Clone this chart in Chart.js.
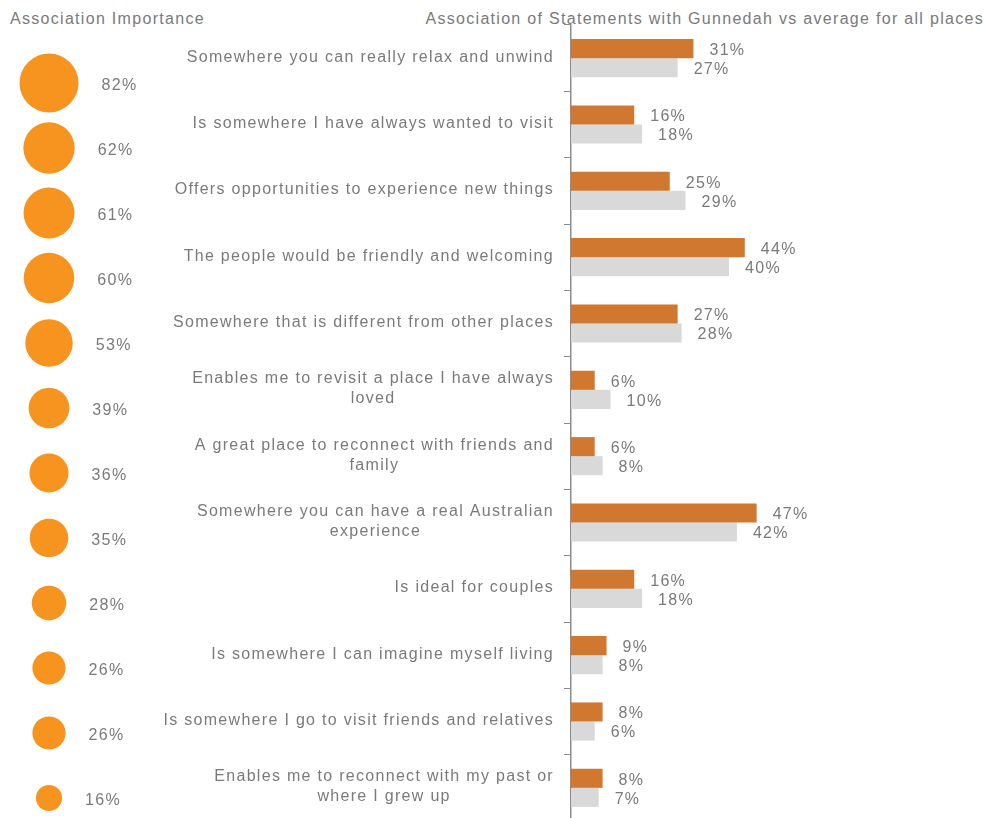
<!DOCTYPE html>
<html>
<head>
<meta charset="utf-8">
<script src="https://cdn.jsdelivr.net/npm/chart.js@4"></script>
<style>
  html, body { margin: 0; padding: 0; background: #fff; overflow: hidden; }
  #wrap { position: relative; width: 985px; height: 818px; overflow: hidden; }
  .title { position: absolute; top: 10px; font: 16px "Liberation Sans", Arial, sans-serif; letter-spacing: 1.3px; color: #7a7a7a; white-space: nowrap; }
  .box { position: absolute; left: 0; top: 0; }
</style>
</head>
<body>
<div id="wrap">
  <div class="title" style="left:10px">Association Importance</div>
  <div class="title" style="right:1px">Association of Statements with Gunnedah vs average for all places</div>
  <div class="box" style="width:985px;height:830px"><canvas id="barChart"></canvas></div>
  <div class="box" style="width:170px;height:818px"><canvas id="bubbleChart"></canvas></div>
</div>
<script>
const statements = [
  'Somewhere you can really relax and unwind',
  'Is somewhere I have always wanted to visit',
  'Offers opportunities to experience new things',
  'The people would be friendly and welcoming',
  'Somewhere that is different from other places',
  ['Enables me to revisit a place I have always', 'loved'],
  ['A great place to reconnect with friends and', 'family'],
  ['Somewhere you can have a real Australian', 'experience'],
  'Is ideal for couples',
  'Is somewhere I can imagine myself living',
  'Is somewhere I go to visit friends and relatives',
  ['Enables me to reconnect with my past or', 'where I grew up']
];
const gunnedah = [31, 16, 25, 44, 27, 6, 6, 47, 16, 9, 8, 8];
const allPlaces = [27, 18, 29, 40, 28, 10, 8, 42, 18, 8, 6, 7];
const importance = [82, 62, 61, 60, 53, 39, 36, 35, 28, 26, 26, 16];

const FONT = '16px "Liberation Sans", Arial, sans-serif';
const SPACING = '1.3px';
const TEXT = '#7a7a7a';

// statement labels: block right-aligned to the axis, lines centred on each other
const statementLabels = {
  id: 'statementLabels',
  afterDraw(chart) {
    const ctx = chart.ctx;
    const yScale = chart.scales.y;
    ctx.save();
    ctx.font = FONT;
    ctx.letterSpacing = SPACING;
    ctx.fillStyle = TEXT;
    ctx.textAlign = 'center';
    ctx.textBaseline = 'middle';
    statements.forEach((lab, i) => {
      const lines = Array.isArray(lab) ? lab : [lab];
      const w = Math.max(...lines.map(l => ctx.measureText(l).width));
      const cx = chart.chartArea.left - 17 - w / 2;
      const cy = yScale.getPixelForTick(i) - 1;
      lines.forEach((l, j) => ctx.fillText(l, cx, cy + (j - (lines.length - 1) / 2) * 20));
    });
    ctx.restore();
  }
};

const barValues = {
  id: 'barValues',
  afterDatasetsDraw(chart) {
    const ctx = chart.ctx;
    ctx.save();
    ctx.font = FONT;
    ctx.letterSpacing = SPACING;
    ctx.fillStyle = TEXT;
    ctx.textAlign = 'left';
    ctx.textBaseline = 'middle';
    chart.data.datasets.forEach((ds, d) => {
      chart.getDatasetMeta(d).data.forEach((bar, i) => {
        ctx.fillText(ds.data[i] + '%', bar.x + 16, bar.y + 2);
      });
    });
    ctx.restore();
  }
};

new Chart(document.getElementById('barChart'), {
  type: 'bar',
  data: {
    labels: statements,
    datasets: [
      { label: 'Gunnedah', data: gunnedah, backgroundColor: '#D0782F', categoryPercentage: 0.575, barPercentage: 1 },
      { label: 'Average for all places', data: allPlaces, backgroundColor: '#D9D9D9', categoryPercentage: 0.575, barPercentage: 1 }
    ]
  },
  options: {
    indexAxis: 'y',
    responsive: true,
    maintainAspectRatio: false,
    animation: false,
    layout: { padding: { top: 25, right: 19, bottom: 9, left: 0 } },
    plugins: { legend: { display: false }, tooltip: { enabled: false } },
    scales: {
      x: { display: false, min: 0, max: 100 },
      y: {
        afterFit(scale) { scale.width = 571; },
        border: { color: '#8c8c8c', width: 1.5 },
        grid: { drawOnChartArea: false, drawTicks: true, tickLength: 7, color: '#8c8c8c', offset: true },
        ticks: { display: false }
      }
    }
  },
  plugins: [statementLabels, barValues]
});

const bubbleValues = {
  id: 'bubbleValues',
  afterDatasetsDraw(chart) {
    const ctx = chart.ctx;
    ctx.save();
    ctx.font = FONT;
    ctx.letterSpacing = SPACING;
    ctx.fillStyle = TEXT;
    ctx.textAlign = 'left';
    ctx.textBaseline = 'middle';
    chart.getDatasetMeta(0).data.forEach((pt, i) => {
      ctx.fillText(importance[i] + '%', pt.x + pt.options.radius + 23, pt.y + 3);
    });
    ctx.restore();
  }
};

new Chart(document.getElementById('bubbleChart'), {
  type: 'bubble',
  data: {
    datasets: [{
      label: 'Association Importance',
      data: importance.map((v, i) => ({ x: 1, y: i, r: 3.26 * Math.sqrt(v) })),
      backgroundColor: '#F6941F',
      borderWidth: 0,
      clip: false
    }]
  },
  options: {
    responsive: true,
    maintainAspectRatio: false,
    animation: false,
    layout: { autoPadding: false, padding: { top: 83, bottom: 20, left: 0, right: 72 } },
    plugins: { legend: { display: false }, tooltip: { enabled: false } },
    scales: {
      x: { display: false, min: 0, max: 2 },
      y: { display: false, reverse: true, min: 0, max: 11 }
    }
  },
  plugins: [bubbleValues]
});
</script>
</body>
</html>
